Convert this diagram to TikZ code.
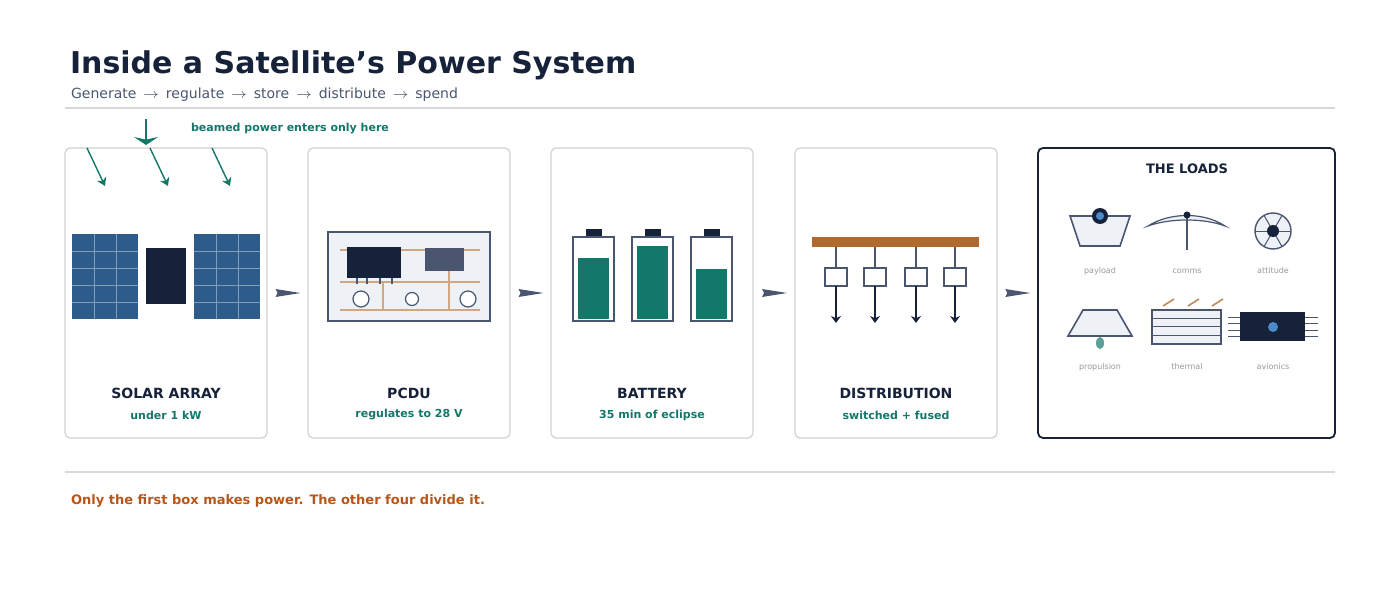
\documentclass[tikz,border=0pt]{standalone}
\usepackage{fontspec}
\setmainfont{DejaVu Sans}
\begin{document}
\begin{tikzpicture}[x=0.5pt,y=-0.5pt,
  card/.style={draw=black!18,line width=0.6pt,rounded corners=2.5pt,fill=white},
  ttl/.style={font=\bfseries\fontsize{7}{8}\selectfont,text=ink},
  sub/.style={font=\bfseries\fontsize{5.5}{6}\selectfont,text=teal2},
  lbl/.style={font=\fontsize{4}{5}\selectfont,text=gray!80},
  flow/.style={fill=slate},
  tarr/.style={draw=teal2,line width=0.7pt,-{Stealth[length=4pt,width=5pt]}},
  darr/.style={draw=ink,line width=0.6pt,-{Stealth[length=3.5pt,width=5pt]}},
  cu/.style={draw=copper!60,line width=1pt}]
\definecolor{ink}{HTML}{16213A}
\definecolor{teal2}{HTML}{13786A}
\definecolor{slate}{HTML}{4A5670}
\definecolor{panel}{HTML}{2E5C8A}
\definecolor{copper}{HTML}{B06A30}
\definecolor{rust}{HTML}{B8561A}
\definecolor{light}{HTML}{EEF1F6}
\definecolor{blu}{HTML}{4A8BC8}
\useasboundingbox (0,0) rectangle (1400,609);
\usetikzlibrary{arrows.meta}
% header
\node[anchor=base west,font=\bfseries\fontsize{15}{18}\selectfont,text=ink] (title) at (63,74) {Inside a Satellite's Power System};
\node[anchor=base west,font=\fontsize{7}{8}\selectfont,text=slate] (subt) at (64,99) {Generate \,$\rightarrow$\, regulate \,$\rightarrow$\, store \,$\rightarrow$\, distribute \,$\rightarrow$\, spend};
\draw[black!15,line width=0.6pt] (65,108) -- (1335,108);
\draw[black!15,line width=0.6pt] (65,472) -- (1335,472);
\node[anchor=base west,font=\bfseries\fontsize{6.5}{8}\selectfont,text=rust] (foot) at (64,504) {Only the first box makes power. The other four divide it.};
% cards
\node[card,minimum width=101pt,minimum height=145pt,inner sep=0] (c1) at (166,293) {};
\node[card,minimum width=101pt,minimum height=145pt,inner sep=0] (c2) at (409,293) {};
\node[card,minimum width=101pt,minimum height=145pt,inner sep=0] (c3) at (652,293) {};
\node[card,minimum width=101pt,minimum height=145pt,inner sep=0] (c4) at (896,293) {};
\node[card,draw=ink,line width=0.9pt,minimum width=148.5pt,minimum height=145pt,inner sep=0] (c5) at (1186.5,293) {};
% flow arrows
\foreach \a/\b in {c1/c2,c2/c3,c3/c4,c4/c5}{
  \path (\a.east) -- (\b.west) coordinate[pos=0.5] (m);
  \fill[flow] ([xshift=-6pt,yshift=2pt]m) -- ([xshift=6.5pt]m) -- ([xshift=-6pt,yshift=-2pt]m) -- ([xshift=-5pt]m) -- cycle;
}
% card labels
\node[ttl] (t1) at (166,393) {SOLAR ARRAY}; \node[sub] (s1) at (166,415) {under 1 kW};
\node[ttl] (t2) at (409,393) {PCDU}; \node[sub] (s2) at (409,415) {regulates to 28 V};
\node[ttl] (t3) at (652,393) {BATTERY}; \node[sub] (s3) at (652,415) {35 min of eclipse};
\node[ttl] (t4) at (896,393) {DISTRIBUTION}; \node[sub] (s4) at (896,415) {switched + fused};
% solar
\node[anchor=west,font=\bfseries\fontsize{5.5}{6}\selectfont,text=teal2] (beam) at (184,129) {beamed power enters only here};
\coordinate (b0) at (146,119); \coordinate (b1) at (146,145);
\draw[draw=teal2,line width=1pt,-{Stealth[length=4pt,width=12pt]}] (b0) -- (b1);
\foreach \x in {87,150,212}{ \coordinate (r0) at (\x,148); \coordinate (r1) at (\x+18,186); \draw[tarr] (r0) -- (r1);}
\foreach \x in {72,194}{
  \fill[panel] (\x,234) rectangle (\x+66,319);
  \foreach \i in {1,2} \draw[white!40!panel,line width=0.5pt] (\x+22*\i,234) -- (\x+22*\i,319);
  \foreach \j in {1,...,4} \draw[white!40!panel,line width=0.5pt] (\x,234+17*\j) -- (\x+66,234+17*\j);
}
\fill[ink] (146,248) rectangle (186,304);
% PCDU
\draw[fill=light,draw=slate,line width=1pt] (328,232) rectangle (490,321);
\draw[cu] (340,250) -- (480,250); \draw[cu] (340,282) -- (480,282); \draw[cu] (340,310) -- (480,310);
\draw[cu] (383,282) -- (383,310); \draw[cu] (449,270) -- (449,310);
\fill[ink] (347,247) rectangle (401,278);
\fill[slate] (425,248) rectangle (464,271);
\foreach \x in {357,367,380,392} \draw[slate,line width=0.6pt] (\x,278) -- (\x,284);
\foreach \x/\r in {361/8,412/6.5,468/8} \draw[fill=white,draw=slate,line width=0.6pt] (\x,299) circle[radius=\r];
% batteries
\foreach \x/\t in {573/258,632/246,691/269}{
  \fill[ink] (\x+12.5,229) rectangle (\x+28.5,237);
  \draw[slate,line width=0.8pt,fill=white] (\x,237) rectangle (\x+41,321);
  \fill[teal2] (\x+5,\t) rectangle (\x+36,319);
}
% distribution
\fill[copper] (812,237) rectangle (979,247);
\foreach \x in {836,875,916,955}{
  \draw[slate,line width=0.6pt] (\x,247) -- (\x,268);
  \draw[slate,line width=0.7pt,fill=white] (\x-11,268) rectangle (\x+11,286);
  \draw[darr] (\x,286) -- (\x,323);
}
% loads
\node[font=\bfseries\fontsize{6.5}{8}\selectfont,text=ink] (t5) at (1187,169) {THE LOADS};
\draw[slate,fill=light,line width=0.8pt] (1070,216) -- (1130,216) -- (1120,246) -- (1080,246) -- cycle;
\fill[ink] (1100,216) circle[radius=8]; \fill[blu] (1100,216) circle[radius=4];
\node[lbl] (l1) at (1100,271) {payload};
\draw[slate,line width=0.6pt,fill=light] (1148,226) .. controls (1170,212) and (1204,212) .. (1225,226) .. controls (1204,218) and (1170,218) .. cycle;
\draw[slate,line width=0.6pt] (1187,215) -- (1187,250);
\fill[ink] (1187,215) circle[radius=3.5];
\node[lbl] (l2) at (1187,271) {comms};
\draw[slate,line width=0.7pt,fill=light] (1273,231) circle[radius=18];
\foreach \a in {0,60,...,300} \draw[slate,line width=0.5pt] (1273,231) -- ++(\a:18);
\fill[ink] (1273,231) circle[radius=6];
\node[lbl] (l3) at (1273,271) {attitude};
\draw[slate,fill=light,line width=0.8pt] (1083,310) -- (1117,310) -- (1132,336) -- (1068,336) -- cycle;
\fill[teal2!70] (1100,343) ellipse[x radius=4,y radius=6];
\node[lbl] (l4) at (1100,367) {propulsion};
\draw[slate,fill=light,line width=0.7pt] (1152,310) rectangle (1221,344);
\foreach \y in {318,326,335} \draw[slate,line width=0.5pt] (1152,\y) -- (1221,\y);
\foreach \x in {1163,1188,1212} \draw[copper!80,line width=0.8pt] (\x,306) -- (\x+11,299);
\node[lbl] (l5) at (1187,367) {thermal};
\foreach \y in {317,323,330,336}{\draw[slate,line width=0.5pt] (1228,\y) -- (1240,\y); \draw[slate,line width=0.5pt] (1305,\y) -- (1318,\y);}
\fill[ink] (1240,312) rectangle (1305,341);
\fill[blu] (1273,327) circle[radius=5];
\node[lbl] (l6) at (1273,367) {avionics};
\end{tikzpicture}
\end{document}
